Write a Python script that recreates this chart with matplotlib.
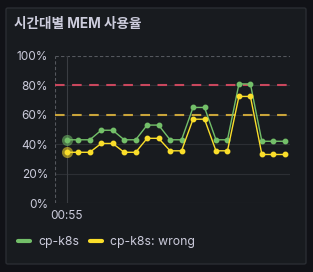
import matplotlib.pyplot as plt
from matplotlib.lines import Line2D
from matplotlib.patches import FancyBboxPatch

plt.rcParams['font.family'] = ['Inter', 'Noto Sans CJK KR', 'DejaVu Sans']

# data (one point per sample, first sample at 00:55)
cp_k8s = [43, 43, 43, 49.5, 49.5, 43, 43, 53, 53, 43, 43, 65, 65, 43, 43, 81, 81, 42, 42, 42]
cp_k8s_wrong = [34.5, 34.5, 34.5, 40.5, 40.5, 34.5, 34.5, 44, 44, 35.5, 35.5, 57, 57,
                35.5, 35.5, 72.5, 72.5, 33, 33, 33]
thresholds = [80, 60]
threshold_colors = ['#c9475d', '#c9a43a']
y_ticks = [0, 20, 40, 60, 80, 100]
x_tick_labels = ['00:55']

GREEN = '#73bf69'
YELLOW = '#fade2a'
TEXT = '#ccccdc'

W, H = 313, 272
fig = plt.figure(figsize=(W / 100, H / 100), dpi=100)
fig.patch.set_facecolor('#111217')

# panel
panel = FancyBboxPatch((6 / W, 8 / H), 300 / W, 256 / H, boxstyle='round,pad=0,rounding_size=0.006',
                       transform=fig.transFigure, facecolor='#181b1f', edgecolor='#2a2d33',
                       lw=1, zorder=-10)
fig.patches.append(panel)
fig.text(14 / W, 1 - 24 / H, '시간대별 MEM 사용율', color=TEXT, fontsize=9.8,
         fontweight='bold', va='center', ha='left')

ax = fig.add_axes([55 / W, 1 - 203 / H, 235 / W, 147 / H])
ax.set_facecolor('none')
x = list(range(len(cp_k8s)))

for t in y_ticks[:-1]:
    ax.axhline(t, color='#2c2f34', lw=0.8, zorder=0)
ax.axhline(100, color='#55585e', lw=0.8, ls=(0, (3, 2)), zorder=0)
ax.axvline(-1.03, color='#55585e', lw=0.8, ls=(0, (3, 2)), zorder=0)
ax.axvline(0, color='#3a3d42', lw=0.8, zorder=2)

for t, c in zip(thresholds, threshold_colors):
    ax.axhline(t, color=c, lw=1.5, ls=(0, (4.6, 3.6)), zorder=1)

ax.plot(x, cp_k8s, color=GREEN, lw=1, marker='o', ms=3.2, zorder=3)
ax.plot(x, cp_k8s_wrong, color=YELLOW, lw=1, marker='o', ms=3.2, zorder=3)
# hovered first point
ax.plot(x[0], cp_k8s[0], 'o', color=GREEN, ms=8, alpha=0.55, zorder=4, mec='none')
ax.plot(x[0], cp_k8s_wrong[0], 'o', color=YELLOW, ms=8, alpha=0.55, zorder=4, mec='none')

ax.set_xlim(-1.03, 19.45)
ax.set_ylim(0, 100)
ax.set_yticks(y_ticks)
ax.set_yticklabels([f'{v}%' for v in y_ticks])
ax.set_xticks([0])
ax.set_xticklabels(x_tick_labels)
ax.tick_params(colors=TEXT, labelsize=8.5, length=0, pad=5)
for s in ax.spines.values():
    s.set_visible(False)

handles = [Line2D([], [], color=GREEN, lw=3, solid_capstyle='round'),
           Line2D([], [], color=YELLOW, lw=3, solid_capstyle='round')]
leg = fig.legend(handles, ['cp-k8s', 'cp-k8s: wrong'], loc='center left',
                 bbox_to_anchor=(18 / W, 1 - 242 / H), ncol=2, frameon=False, borderpad=0,
                 borderaxespad=0, handlelength=1.0, handletextpad=0.65, columnspacing=0.9,
                 fontsize=8.8)
for t in leg.get_texts():
    t.set_color(TEXT)

fig.savefig('out.png', dpi=100, facecolor=fig.get_facecolor())
